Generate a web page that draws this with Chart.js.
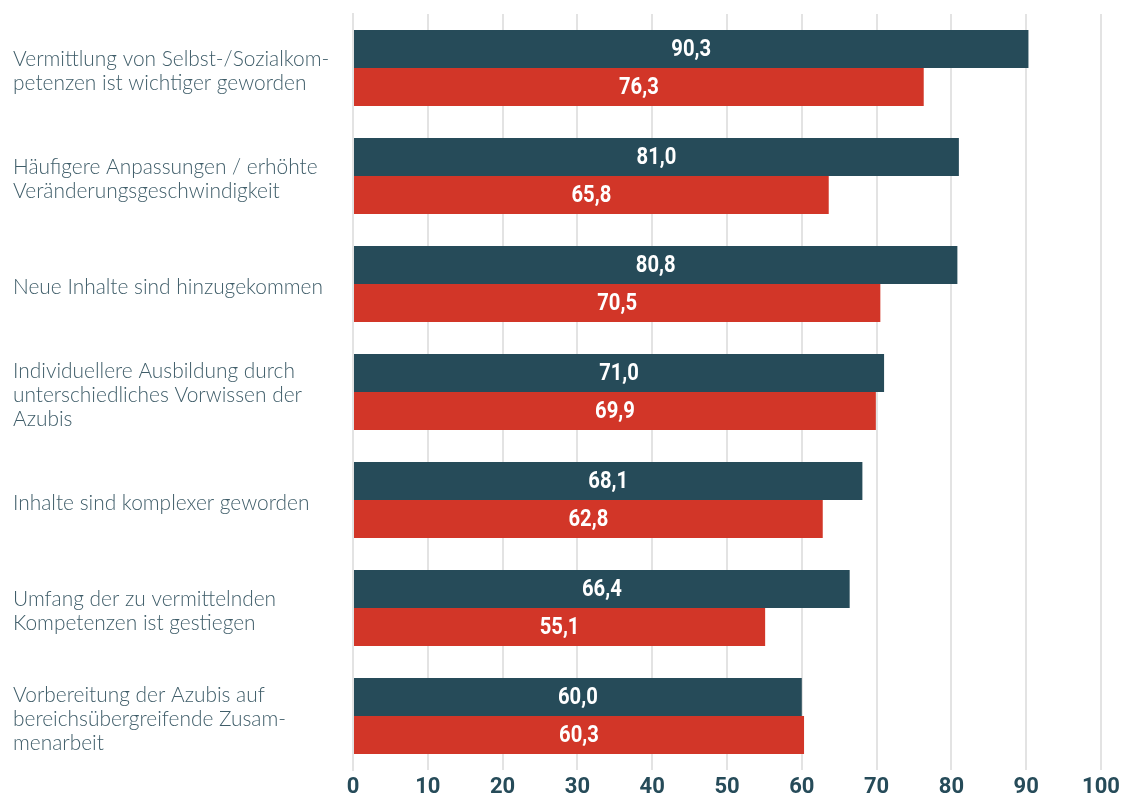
<!DOCTYPE html>
<html>
<head>
<meta charset="utf-8">
<script src="https://cdn.jsdelivr.net/npm/chart.js@4"></script>
<style>
  html, body { margin: 0; padding: 0; background: #fff; }
  #wrap { width: 1127px; height: 796px; }
</style>
</head>
<body>
<div id="wrap"><canvas id="BarChart"></canvas></div>
<script>
const categories = [
    ["Vermittlung von Selbst-/Sozialkom-", "petenzen ist wichtiger geworden"],
    ["Häufigere Anpassungen / erhöhte", "Veränderungsgeschwindigkeit"],
    ["Neue Inhalte sind hinzugekommen"],
    ["Individuellere Ausbildung durch", "unterschiedliches Vorwissen der", "Azubis"],
    ["Inhalte sind komplexer geworden"],
    ["Umfang der zu vermittelnden", "Kompetenzen ist gestiegen"],
    ["Vorbereitung der Azubis auf", "bereichsübergreifende Zusam-", "menarbeit"]
];

// bar lengths as drawn
const darkValues = [90.3, 81.0, 80.8, 71.0, 68.1, 66.4, 60.0];
const redValues = [76.3, 63.6, 70.5, 69.9, 62.8, 55.1, 60.3];

// printed values (second bar of group 2 is drawn shorter than its label)
const darkLabels = ["90,3", "81,0", "80,8", "71,0", "68,1", "66,4", "60,0"];
const redLabels = ["76,3", "65,8", "70,5", "69,9", "62,8", "55,1", "60,3"];

const tickValues = [0, 10, 20, 30, 40, 50, 60, 70, 80, 90, 100];

const DARK = "#264b59";
const RED = "#d23628";

// writes the value in the middle of each bar, squeezed a bit like a condensed face
const barText = {
    id: 'barText',
    afterDatasetsDraw(chart) {
        const ctx = chart.ctx;
        const texts = [darkLabels, redLabels];
        const sx = 0.88;
        ctx.save();
        ctx.fillStyle = "#ffffff";
        ctx.font = "bold 23px Roboto";
        ctx.textAlign = "center";
        ctx.textBaseline = "middle";
        chart.data.datasets.forEach((ds, d) => {
            chart.getDatasetMeta(d).data.forEach((bar, i) => {
                const cx = (bar.x + bar.base) / 2;
                ctx.save();
                ctx.translate(cx, bar.y + 1);
                ctx.scale(sx, 1);
                ctx.fillText(texts[d][i], 0, 0);
                ctx.restore();
            });
        });
        ctx.restore();
    }
};

let ctx = document.getElementById('BarChart').getContext('2d');

var myBarChart = new Chart(ctx, {
    type: 'bar',
    data: {
        labels: categories,
        datasets: [
            {
                label: "A",
                backgroundColor: DARK,
                data: darkValues,
                barPercentage: 1.0,
                categoryPercentage: 0.706
            },
            {
                label: "B",
                backgroundColor: RED,
                data: redValues,
                barPercentage: 1.0,
                categoryPercentage: 0.706
            }
        ]
    },
    options: {
        indexAxis: 'y',
        responsive: true,
        maintainAspectRatio: false,
        animation: false,
        layout: { padding: { left: 13, top: 14, right: 26, bottom: 0 } },
        plugins: {
            legend: { display: false },
            tooltip: { enabled: false }
        },
        scales: {
            x: {
                min: 0,
                max: 100,
                afterBuildTicks: (scale) => {
                    scale.ticks = tickValues.map(v => ({ value: v }));
                },
                afterFit: (scale) => {
                    scale.height = 26;
                    scale.paddingLeft = 0;
                    scale.paddingRight = 0;
                },
                grid: {
                    color: "#e3e3e3",
                    lineWidth: 2,
                    drawTicks: false
                },
                border: { display: false },
                ticks: {
                    padding: 4,
                    color: DARK,
                    font: { family: "Roboto", weight: "bold", size: 22 }
                }
            },
            y: {
                afterFit: (scale) => {
                    scale.width = 340;
                    scale.paddingTop = 0;
                    scale.paddingBottom = 0;
                },
                grid: { display: false },
                border: { color: "#e3e3e3", width: 2 },
                ticks: {
                    crossAlign: 'far',
                    labelOffset: 3,
                    color: "#3f5d69",
                    font: { family: "Lato", weight: 300, size: 20.9, lineHeight: 1.15 }
                }
            }
        }
    },
    plugins: [barText]
});
</script>
</body>
</html>
